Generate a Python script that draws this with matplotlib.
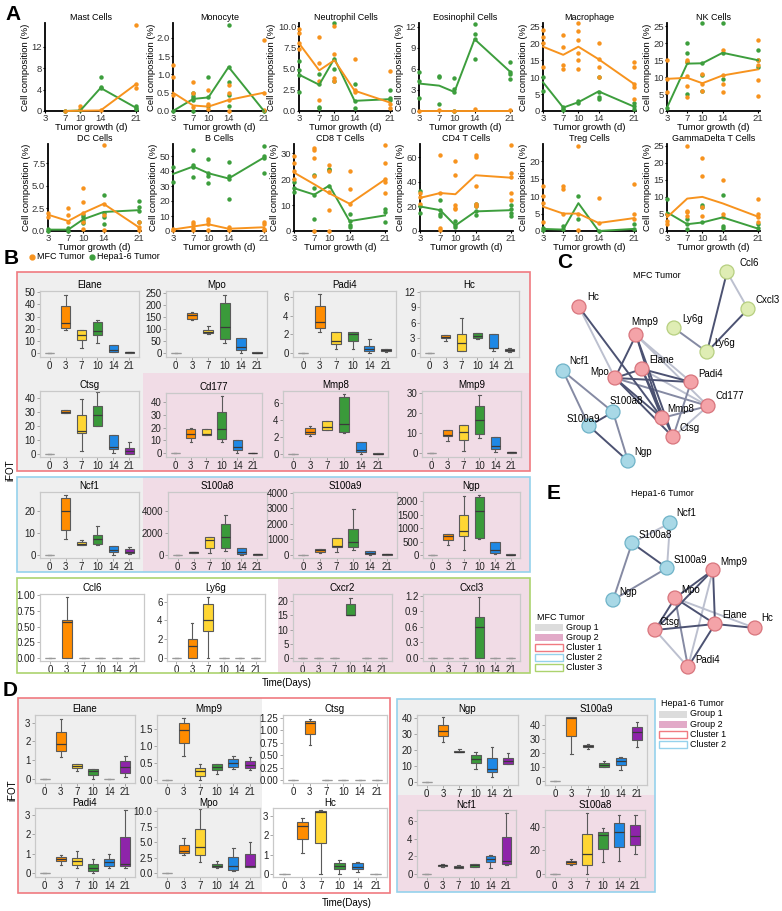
import numpy as np
import matplotlib.pyplot as plt
from matplotlib.patches import Rectangle, Circle

plt.rcParams['font.family'] = ['Liberation Sans', 'DejaVu Sans']

W, H = 782, 911
ORANGE = '#f7931e'
GREEN = '#3d9e3d'

# ---------------- panel A data (points per day, mean line) ----------------
days = [3, 7, 10, 14, 21]

mast_mfc = [[], [0.0], [0.9, 0.3], [0.1], [16.0, 5.1, 4.2]]
mast_mfc_mean = [np.nan, 0.0, 0.05, 0.1, 5.0]
mast_hep = [[], [0.0], [0.1], [6.3, 4.5, 4.2], [1.0, 0.5, 0.3]]
mast_hep_mean = [np.nan, 0.0, 0.1, 4.3, 0.6]

mono_mfc = [[1.25, 0.93, 0.45], [0.78, 0.5, 0.1], [0.58, 0.2, 0.05], [0.72, 0.5, 0.3, 0.0], [1.93, 0.5, 0.03]]
mono_mfc_mean = [0.5, 0.15, 0.12, 0.3, 0.5]
mono_hep = [[0.0], [0.5, 0.42, 0.35, 0.3, 0.0], [0.92, 0.38, 0.15], [2.35, 1.2, 0.8, 0.45, 0.15], [0.0]]
mono_hep_mean = [0.0, 0.33, 0.37, 1.2, 0.0]

neut_mfc = [[9.7, 9.2, 8.0, 7.3], [8.8, 5.7, 3.5, 1.3], [10.1, 6.7, 3.9, 3.5], [6.2, 2.5, 2.2], [4.7, 0.8, 0.4]]
neut_mfc_mean = [8.0, 4.8, 6.0, 2.4, 1.0]
neut_hep = [[5.9, 4.8, 4.2, 2.2], [4.4, 3.2, 0.5, 0.3], [10.4, 6.2, 5.0, 3.6], [3.2, 1.2, 0.3], [2.5, 1.5, 1.3]]
neut_hep_mean = [4.3, 3.1, 6.2, 1.2, 1.4]

eos_mfc = [[0.0], [0.2], [0.0], [0.3], [0.1]]
eos_mfc_mean = [0.0, 0.0, 0.0, 0.0, 0.0]
eos_hep = [[5.5, 4.3, 1.8], [5.0, 4.8, 1.0], [4.7, 3.1, 2.7, 0.0], [12.4, 11.0, 10.2, 7.4], [7.0, 5.5, 5.3, 4.5]]
eos_hep_mean = [3.9, 3.6, 2.7, 10.2, 5.6]

mac_mfc = [[24, 22, 20, 13], [22.5, 19, 13.5, 12.5], [26, 23.5, 21, 17, 15, 12.5], [20, 15.5, 13, 10], [14.5, 13, 8, 7, 3.5]]
mac_mfc_mean = [19, 16.6, 19, 15.3, 8]
mac_hep = [[10, 6], [1.3, 0.5, 0.2], [3, 2.5], [10, 5.5, 4, 3.5], [2.5, 1.5, 0.7]]
mac_hep_mean = [8.5, 1.0, 2.6, 5.8, 1.3]

nk_mfc = [[15, 9.5, 5.5], [15, 14.5, 10.3, 7.5, 4], [11, 8, 6], [18, 10.5, 8, 5.5], [21, 15, 13.5, 9.2, 4.5]]
nk_mfc_mean = [9.5, 9.8, 8.2, 10.5, 12.3]
nk_hep = [[1], [20, 17.2, 14.5, 5], [26, 14.2, 10.5, 6], [26, 17, 9.5], [18, 15, 13]]
nk_hep_mean = [1, 14, 14.1, 17.2, 15]

dc_mfc = [[2.0, 1.5], [2.5, 1.8, 1.0], [4.8, 3.2, 2.0, 1.0, 0.2], [9.5, 3.0, 1.8, 0.1], [1.0, 0.4, 0.1]]
dc_mfc_mean = [1.8, 1.1, 2.0, 3.0, 0.4]
dc_hep = [[0.2, 0.05], [0.3, 0.05], [1.8, 1.5, 1.2, 0.9], [4.0, 2.0, 1.6, 0.8], [3.3, 2.7, 2.2, 1.0]]
dc_hep_mean = [0.15, 0.15, 1.3, 2.1, 2.3]

bc_mfc = [[1.5, 0.5], [6, 5, 2, 1], [8, 6.5, 5, 1], [2.5, 1.5, 0.5], [6, 4.5, 1.5, 0.5]]
bc_mfc_mean = [1, 3, 4.5, 1.5, 2.5]
bc_hep = [[43, 33], [54, 44, 43, 36], [48, 39, 37, 32], [46, 37, 35, 21.5], [57, 50, 49, 39]]
bc_hep_mean = [38, 43, 38.5, 35, 49]

cd8_mfc = [[29, 26, 23, 20], [32, 31, 28, 21, 0], [25.5, 23, 15, 8, 0], [23, 16, 10.5], [33, 26, 20, 19, 14.5]]
cd8_mfc_mean = [22.5, 18, 14.5, 10.5, 19.8]
cd8_hep = [[19, 16.5, 15], [21.5, 16.5, 14, 4.5], [24, 23.5, 17.5], [6.5, 4, 2.5, 1.5], [8.5, 7.5, 3.5]]
cd8_hep_mean = [16.5, 14, 17.5, 3.8, 6]

cd4_mfc = [[31, 28, 22], [62, 31, 2.5, 1], [57, 46, 21, 19, 18], [62, 60, 37, 22, 20], [70, 47, 44, 31, 25]]
cd4_mfc_mean = [27, 31, 30, 45.5, 43.5]
cd4_hep = [[33, 20, 15], [25, 17, 14, 12], [8, 5, 3], [22, 20, 16, 13], [21, 18, 15, 12]]
cd4_hep_mean = [20, 17, 4.5, 16, 17]

treg_mfc = [[13, 10, 8, 2.5], [13, 12, 5], [24.5, 5, 0.2], [9.5, 2.3], [13.5, 5, 3.5]]
treg_mfc_mean = [7, 5, 5, 2.3, 3.7]
treg_hep = [[0.8, 0.2], [1.3, 0.5], [10, 3.5], [0], [2, 0.5]]
treg_hep_mean = [0.6, 0.4, 8, 0, 0.6]

gd_mfc = [[5, 3, 2], [25, 6, 5.5, 4.5], [21.5, 16, 7, 4.5], [15, 5, 4], [9.5, 5, 4, 2.5]]
gd_mfc_mean = [4, 9.5, 10, 8.1, 4.2]
gd_hep = [[9.5, 5], [3.5, 2, 0.5], [7.5, 7, 2.5], [10.5, 1.5, 1], [2, 0.8]]
gd_hep_mean = [5.5, 2, 2.5, 4, 0.7]

# ---------------- box plot data: (whislo, q1, median, q3, whishi) per day ----------------
time_labels = ['0', '3', '7', '10', '14', '21']
box_colors = ['#b5b5b5', '#ff8c00', '#ffd633', '#3a9a3a', '#1e88e5', '#8e24aa']
ZERO = (0, 0, 0, 0, 0)

b_elane = [ZERO, (19, 21, 25, 39, 48), (4, 11, 15, 19, 19.5), (8.5, 15, 18, 26, 27), (1, 1.5, 3, 6.5, 6.5), (0, 0.3, 0.8, 1.2, 1.2)]
b_mpo = [ZERO, (140, 145, 158, 170, 172), (80, 83, 88, 98, 115), (42, 60, 112, 210, 245), (3, 15, 28, 65, 65), (0, 1, 2, 4, 4)]
b_padi4 = [ZERO, (2.2, 2.7, 3.3, 5.0, 6.3), (0.4, 1.0, 1.3, 2.3, 2.3), (0.5, 1.3, 2.0, 2.2, 2.2), (0, 0.2, 0.4, 0.8, 1.5), (0.1, 0.2, 0.35, 0.5, 0.5)]
b_hc = [ZERO, (2.5, 3.0, 3.2, 3.6, 3.6), (0.5, 0.5, 2.0, 3.7, 7.0), (2.9, 3.0, 3.4, 4.0, 4.0), (0.4, 1.0, 1.1, 3.8, 3.8), (0.2, 0.4, 0.6, 0.9, 1.0)]
b_ctsg = [ZERO, (29.5, 29.5, 30, 31, 31), (2, 14.5, 16, 27.5, 39), (20, 20, 28, 34, 44), (0.5, 3, 5, 13, 13), (0, 0, 1.5, 4, 8.5)]
b_cd177 = [ZERO, (8.5, 12, 15, 19, 20), (14, 14, 15, 18.5, 18.5), (9, 11, 19, 32.5, 45), (0, 2.5, 5, 10, 10), (0, 0, 0, 0.5, 0.5)]
b_mmp8 = [ZERO, (2.1, 2.3, 2.5, 3.0, 3.3), (2.8, 2.8, 3.2, 3.9, 3.9), (2.4, 2.6, 3.5, 6.7, 7.1), (0, 0.2, 0.4, 1.4, 1.4), (0, 0, 0, 0.05, 0.05)]
b_mmp9 = [ZERO, (6, 8.5, 9, 11.5, 11.5), (1, 6.5, 10.5, 14, 14), (7.5, 9.5, 16.5, 23.5, 29), (0.5, 2, 3.5, 8, 8), (0, 0, 0.3, 0.5, 0.5)]
b_ncf1 = [ZERO, (7.5, 11.5, 20, 26, 27.5), (4.5, 4.5, 5, 6, 7), (4.5, 5, 7.5, 9, 13.5), (0, 1.5, 2, 4, 4), (0.5, 0.8, 1.5, 2.5, 3.5)]
b_s100a8 = [ZERO, (150, 180, 250, 300, 300), (200, 600, 1400, 1600, 1600), (350, 600, 1600, 2800, 3600), (0, 100, 300, 650, 650), (0, 30, 60, 100, 100)]
b_s100a9 = [ZERO, (150, 200, 300, 350, 400), (200, 500, 600, 1100, 1100), (300, 500, 850, 1650, 2950), (0, 80, 150, 280, 280), (0, 20, 40, 80, 80)]
b_ngp = [ZERO, (400, 550, 700, 780, 780), (200, 720, 900, 1500, 2200), (600, 650, 1650, 2150, 2250), (50, 100, 200, 480, 480), (0, 10, 25, 40, 40)]
b_ccl6 = [ZERO, (0, 0, 0.57, 0.61, 0.97), ZERO, ZERO, ZERO, ZERO]
b_ly6g = [ZERO, (0, 0, 1.3, 2.0, 3.7), (0, 2.9, 4.0, 5.7, 6.5), ZERO, ZERO, ZERO]
b_cxcr2 = [ZERO, ZERO, ZERO, (15, 15, 15, 19, 21), ZERO, ZERO]
b_cxcl3 = [ZERO, ZERO, ZERO, (0, 0, 0.6, 0.78, 1.18), ZERO, ZERO]

d_elane = [ZERO, (1.2, 1.5, 1.85, 2.5, 3.2), (0.45, 0.6, 0.7, 0.8, 0.8), (0, 0.2, 0.45, 0.55, 0.55), ZERO, (0.1, 0.35, 0.65, 0.95, 1.25)]
d_mmp9 = [ZERO, (0.7, 1.08, 1.47, 1.65, 1.82), (0, 0.12, 0.25, 0.35, 0.47), (0.15, 0.28, 0.38, 0.47, 0.47), (0.3, 0.38, 0.48, 0.6, 0.7), (0.28, 0.35, 0.42, 0.55, 0.67)]
d_ctsg = [ZERO, (0.71, 0.92, 1.15, 1.18, 1.22), ZERO, ZERO, ZERO, ZERO]
d_padi4 = [ZERO, (0.4, 0.6, 0.75, 0.85, 0.95), (0.25, 0.4, 0.6, 0.8, 1.15), (0, 0.1, 0.25, 0.45, 0.72), (0.25, 0.35, 0.55, 0.75, 1.0), (0.25, 0.35, 0.45, 1.85, 3.25)]
d_mpo = [ZERO, (2.9, 3.3, 3.6, 4.6, 5.7), (1.8, 2.9, 4.2, 7.2, 10.3), (0.9, 1.0, 1.2, 1.5, 2.0), (0.4, 0.6, 1.2, 2.6, 4.1), (1.0, 1.0, 1.2, 3.1, 5.1)]
d_hc = [ZERO, (1.1, 1.8, 2.45, 2.7, 2.9), (0, 1.6, 3.2, 3.25, 3.3), (0, 0.25, 0.4, 0.55, 0.72), (0.1, 0.25, 0.35, 0.55, 0.6), ZERO]
d_ngp = [ZERO, (25, 28.5, 32, 36, 40.5), (18.5, 18.5, 19, 19.5, 20.5), (8, 12, 14.5, 17, 18.5), (3, 6, 8, 15, 22), (11.5, 11.5, 13, 15, 18)]
d_s100a9 = [ZERO, (19, 32, 45, 45.5, 45.5), (23, 24, 25, 25.5, 26), (10, 10, 11, 12.5, 14.5), (8, 11, 14, 16, 17), (24, 29, 35, 38.5, 42)]
d_ncf1 = [ZERO, (0.8, 0.85, 0.95, 1.0, 1.05), (0.6, 0.65, 0.75, 0.9, 1.0), (0.7, 0.8, 0.95, 1.05, 1.15), (0.65, 1.3, 1.7, 2.05, 2.15), (1.0, 1.1, 1.4, 4.2, 7.0)]
d_s100a8 = [ZERO, (7.5, 8.5, 10, 11, 13), (0, 7.5, 16.5, 34, 52), (10, 21.5, 33, 36, 39), (10.5, 23, 36, 43.5, 50.5), (17, 24.5, 32.5, 42, 50.5)]

# ---------------- network layouts (pixel positions) ----------------
NODE_COL = {'r': ('#f4a3a8', '#d8757d'), 'b': ('#a8d8e6', '#6fb3c8'), 'g': ('#dfedb4', '#b6cf80')}
EDGE_COL = ['#bcc0cf', '#858aa3', '#4c5272']

# key: (x, y, group, label_x, label_y, label)
mfc_nodes = {
    'Ccl6': (727, 272, 'g', 740, 263, 'Ccl6'), 'Cxcl3': (748, 309, 'g', 756, 300, 'Cxcl3'),
    'Ly6g_a': (674, 328, 'g', 682, 319, 'Ly6g'), 'Ly6g_b': (707, 352, 'g', 714, 343, 'Ly6g'),
    'Hc': (579, 307, 'r', 587, 297, 'Hc'), 'Mmp9': (636, 335, 'r', 631, 322, 'Mmp9'),
    'Elane': (642, 369, 'r', 649, 360, 'Elane'), 'Mpo': (615, 378, 'r', 590, 372, 'Mpo'),
    'Padi4': (691, 382, 'r', 698, 374, 'Padi4'), 'Cd177': (708, 406, 'r', 716, 396, 'Cd177'),
    'Mmp8': (662, 418, 'r', 667, 409, 'Mmp8'), 'Ctsg': (673, 437, 'r', 680, 428, 'Ctsg'),
    'Ncf1': (563, 371, 'b', 569, 361, 'Ncf1'), 'S100a8': (613, 412, 'b', 610, 401, 'S100a8'),
    'S100a9': (589, 426, 'b', 567, 419, 'S100a9'), 'Ngp': (628, 461, 'b', 634, 452, 'Ngp'),
}
mfc_edges = [('Ccl6', 'Cxcl3', 0), ('Ccl6', 'Ly6g_b', 2), ('Cxcl3', 'Ly6g_b', 2), ('Ly6g_a', 'Ly6g_b', 1),
             ('Hc', 'Mmp8', 2), ('Hc', 'Mpo', 0), ('Mmp9', 'Mpo', 2), ('Mmp9', 'Mmp8', 2),
             ('Mmp9', 'Ctsg', 2), ('Mmp9', 'Padi4', 0), ('Mmp9', 'Cd177', 0), ('Mpo', 'Elane', 2),
             ('Mpo', 'Padi4', 2), ('Mpo', 'Cd177', 1), ('Mpo', 'Mmp8', 2), ('Mpo', 'Ctsg', 2),
             ('Elane', 'Padi4', 2), ('Elane', 'Cd177', 0), ('Elane', 'Mmp8', 2), ('Elane', 'Ctsg', 2),
             ('Padi4', 'Ctsg', 1), ('Cd177', 'Mmp8', 1), ('Cd177', 'Ctsg', 0), ('Ncf1', 'S100a9', 1),
             ('Ncf1', 'S100a8', 1), ('S100a8', 'S100a9', 2), ('S100a8', 'Ngp', 1), ('S100a9', 'Ngp', 2)]

hep_nodes = {
    'Ncf1': (670, 523, 'b', 676, 513, 'Ncf1'), 'S100a8': (632, 543, 'b', 639, 535, 'S100a8'),
    'S100a9': (667, 568, 'b', 674, 560, 'S100a9'), 'Ngp': (613, 600, 'b', 619, 592, 'Ngp'),
    'Mmp9': (713, 570, 'r', 720, 562, 'Mmp9'), 'Mpo': (675, 598, 'r', 681, 590, 'Mpo'),
    'Elane': (715, 624, 'r', 722, 615, 'Elane'), 'Ctsg': (655, 630, 'r', 660, 622, 'Ctsg'),
    'Hc': (755, 628, 'r', 761, 618, 'Hc'), 'Padi4': (688, 667, 'r', 695, 660, 'Padi4'),
}
hep_edges = [('Ncf1', 'S100a8', 0), ('Ncf1', 'S100a9', 0), ('S100a8', 'S100a9', 2), ('S100a8', 'Ngp', 1),
             ('S100a9', 'Ngp', 1), ('Mmp9', 'Mpo', 2), ('Mmp9', 'Ctsg', 2), ('Mmp9', 'Elane', 2),
             ('Mmp9', 'Padi4', 0), ('Mpo', 'Elane', 2), ('Mpo', 'Ctsg', 2), ('Mpo', 'Hc', 0),
             ('Mpo', 'Padi4', 1), ('Ctsg', 'Elane', 2), ('Ctsg', 'Padi4', 0), ('Elane', 'Hc', 2),
             ('Elane', 'Padi4', 2)]

GREY_BG = '#efefef'
PINK_BG = '#f1dce6'
RED = '#f07a80'
BLUE = '#95d2ec'
LIME = '#acd36e'

fig = plt.figure(figsize=(W / 100, H / 100), dpi=100)


def ax_px(x0, y0, x1, y1):
    return fig.add_axes([x0 / W, 1 - y1 / H, (x1 - x0) / W, (y1 - y0) / H])


def rect_px(x0, y0, x1, y1, fc='none', ec='none', lw=1.2, z=-5):
    fig.patches.append(Rectangle((x0 / W, 1 - y1 / H), (x1 - x0) / W, (y1 - y0) / H,
                                 transform=fig.transFigure, facecolor=fc, edgecolor=ec,
                                 lw=lw, zorder=z))


def text_px(x, y, s, **kw):
    fig.text(x / W, 1 - y / H, s, **kw)


# ---------------- panel A ----------------
a_panels = [
    ('Mast Cells', mast_mfc, mast_mfc_mean, mast_hep, mast_hep_mean, [0, 4, 8, 12], None, 16.4),
    ('Monocyte', mono_mfc, mono_mfc_mean, mono_hep, mono_hep_mean, [0, 0.5, 1, 1.5, 2], ['0.0', '0.5', '1.0', '1.5', '2.0'], 2.4),
    ('Neutrophil Cells', neut_mfc, neut_mfc_mean, neut_hep, neut_hep_mean, [0, 2.5, 5, 7.5, 10], ['0.0', '2.5', '5.0', '7.5', '10.0'], 10.4),
    ('Eosinophil Cells', eos_mfc, eos_mfc_mean, eos_hep, eos_hep_mean, [0, 3, 6, 9, 12], None, 12.5),
    ('Macrophage', mac_mfc, mac_mfc_mean, mac_hep, mac_hep_mean, [0, 5, 10, 15, 20, 25], None, 26),
    ('NK Cells', nk_mfc, nk_mfc_mean, nk_hep, nk_hep_mean, [0, 5, 10, 15, 20, 25], None, 26),
    ('DC Cells', dc_mfc, dc_mfc_mean, dc_hep, dc_hep_mean, [0, 2.5, 5, 7.5], ['0.0', '2.5', '5.0', '7.5'], 9.6),
    ('B Cells', bc_mfc, bc_mfc_mean, bc_hep, bc_hep_mean, [0, 10, 20, 30, 40, 50], None, 58),
    ('CD8 T Cells', cd8_mfc, cd8_mfc_mean, cd8_hep, cd8_hep_mean, [0, 10, 20, 30], None, 33.5),
    ('CD4 T Cells', cd4_mfc, cd4_mfc_mean, cd4_hep, cd4_hep_mean, [0, 20, 40, 60], None, 71),
    ('Treg Cells', treg_mfc, treg_mfc_mean, treg_hep, treg_hep_mean, [0, 5, 10, 15, 20], None, 25),
    ('GammaDelta T Cells', gd_mfc, gd_mfc_mean, gd_hep, gd_hep_mean, [0, 5, 10, 15, 20, 25], None, 25.5),
]
a_lefts = [[45, 173, 299, 419, 543, 667], [48, 173, 294, 420, 543, 667]]
a_rows = [(23, 111), (144, 231)]

for i, (title, mfc, mfc_m, hep, hep_m, yt, ytl, ymax) in enumerate(a_panels):
    r, c = divmod(i, 6)
    x0 = a_lefts[r][c]
    y0, y1 = a_rows[r]
    ax = ax_px(x0, y0, x0 + 93, y1)
    for pts, mean, col in [(hep, hep_m, GREEN), (mfc, mfc_m, ORANGE)]:
        for d, vals in zip(days, pts):
            ax.plot([d] * len(vals), vals, 'o', color=col, ms=3.2, mec='none', clip_on=False, zorder=3)
        ax.plot(days, mean, '-', color=col, lw=1.4, clip_on=False, zorder=4)
    ax.set_xlim(3, 21.4)
    ax.set_ylim(0, ymax)
    ax.set_xticks(days)
    ax.set_yticks(yt)
    if ytl:
        ax.set_yticklabels(ytl)
    for s in ['top', 'right']:
        ax.spines[s].set_visible(False)
    for s in ['left', 'bottom']:
        ax.spines[s].set_linewidth(1.3)
    ax.tick_params(labelsize=6.8, length=1.5, width=0.8, pad=0.5, labelcolor='#333333')
    ax.set_title(title, fontsize=6.5, pad=2)
    ax.set_xlabel('Tumor growth (d)', fontsize=6.8, labelpad=0)
    ax.set_ylabel('Cell composition (%)', fontsize=6.8, labelpad=1)

text_px(5, 14, 'A', fontsize=15, fontweight='bold', va='center')
text_px(4, 259, 'B', fontsize=15, fontweight='bold', va='center')
text_px(557, 262, 'C', fontsize=15, fontweight='bold', va='center')
text_px(547, 493, 'E', fontsize=15, fontweight='bold', va='center')
text_px(3, 690, 'D', fontsize=15, fontweight='bold', va='center')

fig.lines.append(plt.Line2D([32 / W], [1 - 257 / H], marker='o', ms=3.5, color=ORANGE, transform=fig.transFigure))
text_px(37, 257, 'MFC Tumor', fontsize=6.5, va='center')
fig.lines.append(plt.Line2D([92 / W], [1 - 257 / H], marker='o', ms=3.5, color=GREEN, transform=fig.transFigure))
text_px(97, 257, 'Hepa1-6 Tumor', fontsize=6.5, va='center')


# ---------------- box plots ----------------
def box_ax(box, title, stats, yt, ylim, ytl=None, tpad=2.5):
    ax = ax_px(*box)
    ax.set_facecolor('none')
    bs = [dict(whislo=s[0], q1=s[1], med=s[2], q3=s[3], whishi=s[4]) for s in stats]
    out = ax.bxp(bs, positions=range(6), widths=0.6, patch_artist=True, showfliers=False,
                 capwidths=0.15,
                 boxprops=dict(lw=0.8, edgecolor='#5a5a5a'),
                 medianprops=dict(color='#3a3a3a', lw=0.9),
                 whiskerprops=dict(color='#5a5a5a', lw=0.8),
                 capprops=dict(color='#5a5a5a', lw=0.8))
    for k, patch in enumerate(out['boxes']):
        patch.set_facecolor(box_colors[k])
        if stats[k] == ZERO:
            patch.set_edgecolor('#9a9a9a')
            out['medians'][k].set_color('#9a9a9a')
    ax.set_xlim(-0.6, 5.6)
    ax.set_ylim(*ylim)
    ax.set_xticks(range(6))
    ax.set_xticklabels(time_labels)
    ax.set_yticks(yt)
    if ytl:
        ax.set_yticklabels(ytl)
    for s in ax.spines.values():
        s.set_color('#c9c9c9')
        s.set_linewidth(0.9)
    ax.tick_params(labelsize=7, length=2, width=0.6, color='#999999', pad=1.2, labelcolor='#222222')
    ax.set_title(title, fontsize=7, pad=tpad)
    return ax


# panel B backgrounds and frames
rect_px(17, 272, 530, 373, fc=GREY_BG)
rect_px(17, 373, 143, 471, fc=GREY_BG)
rect_px(143, 373, 530, 471, fc=PINK_BG)
rect_px(17, 272, 530, 471, ec=RED, z=5)
rect_px(17, 477, 143, 572, fc=GREY_BG)
rect_px(143, 477, 530, 572, fc=PINK_BG)
rect_px(17, 477, 530, 572, ec=BLUE, z=5)
rect_px(278, 578, 530, 673, fc=PINK_BG)
rect_px(17, 578, 530, 673, ec=LIME, z=5)

box_ax((40, 291, 139, 357), 'Elane', b_elane, [0, 10, 20, 30, 40, 50], (-3, 51))
box_ax((166, 291, 267, 357), 'Mpo', b_mpo, [0, 50, 100, 150, 200, 250], (-15, 260))
box_ax((293, 291, 396, 357), 'Padi4', b_padi4, [0, 2, 4, 6], (-0.4, 6.6))
box_ax((420, 291, 519, 357), 'Hc', b_hc, [0, 3, 6, 9, 12], (-0.7, 12.2))
box_ax((40, 391, 139, 457), 'Ctsg', b_ctsg, [0, 10, 20, 30, 40], (-2.5, 45))
box_ax((166, 393, 262, 457), 'Cd177', b_cd177, [0, 10, 20, 30, 40], (-3, 47))
box_ax((283, 391, 388, 457), 'Mmp8', b_mmp8, [0, 2, 4, 6], (-0.4, 7.4))
box_ax((422, 391, 521, 457), 'Mmp9', b_mmp9, [0, 10, 20, 30], (-2, 31))
box_ax((40, 492, 139, 558), 'Ncf1', b_ncf1, [0, 10, 20], (-1.5, 29))
box_ax((168, 492, 267, 558), 'S100a8', b_s100a8, [0, 2000, 4000], (-270, 5700))
box_ax((293, 492, 397, 558), 'S100a9', b_s100a9, [0, 1000, 2000, 3000, 4000], (-200, 4050))
box_ax((423, 492, 520, 558), 'Ngp', b_ngp, [0, 500, 1000, 1500, 2000], (-100, 2350))
box_ax((40, 594, 144, 661), 'Ccl6', b_ccl6, [0, 0.25, 0.5, 0.75, 1.0], (-0.05, 1.02),
       ['0.00', '0.25', '0.50', '0.75', '1.00'])
box_ax((167, 594, 265, 661), 'Ly6g', b_ly6g, [0, 2, 4, 6], (-0.3, 6.8))
box_ax((293, 594, 392, 661), 'Cxcr2', b_cxcr2, [0, 5, 10, 15, 20], (-1, 22.5))
box_ax((423, 594, 520, 661), 'Cxcl3', b_cxcl3, [0, 0.3, 0.6, 0.9, 1.2], (-0.06, 1.23),
       ['0.0', '0.3', '0.6', '0.9', '1.2'])

text_px(287, 683, 'Time(Days)', fontsize=7, ha='center', va='center')
text_px(10, 470, 'iFOT', fontsize=7, rotation=90, ha='center', va='center')


def legend_px(x, y, title, entries):
    text_px(x + 2, y, title, fontsize=6.5, va='center')
    for k, (fc, ec, lab) in enumerate(entries):
        yy = y + 10 + k * 10.2
        rect_px(x, yy - 3.5, x + 28, yy + 3.5, fc=fc, ec=ec, lw=1.0, z=5)
        text_px(x + 31, yy, lab, fontsize=6.5, va='center')


legend_px(535, 617, 'MFC Tumor', [('#dcdcdc', 'none', 'Group 1'), ('#e2aac8', 'none', 'Group 2'),
                                  ('white', RED, 'Cluster 1'), ('white', BLUE, 'Cluster 2'),
                                  ('white', LIME, 'Cluster 3')])

# ---------------- panel D ----------------
rect_px(18, 698, 262, 893, fc=GREY_BG)
rect_px(18, 698, 390, 893, ec=RED, z=5)
rect_px(397, 699, 655, 795, fc=GREY_BG)
rect_px(397, 795, 655, 892, fc=PINK_BG)
rect_px(397, 699, 655, 892, ec=BLUE, z=5)

box_ax((35, 715, 135, 783), 'Elane', d_elane, [0, 1, 2, 3], (-0.2, 3.4))
box_ax((157, 715, 260, 783), 'Mmp9', d_mmp9, [0, 0.5, 1.0, 1.5], (-0.1, 1.9), ['0.0', '0.5', '1.0', '1.5'])
box_ax((283, 715, 387, 783), 'Ctsg', d_ctsg, [0, 0.25, 0.5, 0.75, 1.0, 1.25], (-0.05, 1.3),
       ['0.00', '0.25', '0.50', '0.75', '1.00', '1.25'])
box_ax((35, 808, 135, 877), 'Padi4', d_padi4, [0, 1, 2, 3], (-0.2, 3.35), tpad=1)
box_ax((157, 808, 260, 877), 'Mpo', d_mpo, [0, 2.5, 5, 7.5, 10], (-0.6, 10.5),
       ['0.0', '2.5', '5.0', '7.5', '10.0'], tpad=1)
box_ax((273, 808, 387, 877), 'Hc', d_hc, [0, 1, 2, 3], (-0.15, 3.4), tpad=1)
box_ax((417, 715, 518, 785), 'Ngp', d_ngp, [0, 10, 20, 30, 40], (-2, 42))
box_ax((545, 715, 647, 785), 'S100a9', d_s100a9, [0, 10, 20, 30, 40], (-3, 47))
box_ax((417, 810, 516, 877), 'Ncf1', d_ncf1, [0, 2, 4, 6], (-0.4, 7.3), tpad=1)
box_ax((545, 810, 645, 877), 'S100a8', d_s100a8, [0, 20, 40], (-3, 55), tpad=1)

text_px(347, 903, 'Time(Days)', fontsize=7, ha='center', va='center')
text_px(12, 790, 'iFOT', fontsize=7, rotation=90, ha='center', va='center')

legend_px(659, 704, 'Hepa1-6 Tumor', [('#dcdcdc', 'none', 'Group 1'), ('#e2aac8', 'none', 'Group 2'),
                                      ('white', RED, 'Cluster 1'), ('white', BLUE, 'Cluster 2')])

# ---------------- networks C and E ----------------
net = ax_px(535, 250, 782, 690)
net.set_xlim(535, 782)
net.set_ylim(690, 250)
net.axis('off')
for nodes, edges in [(mfc_nodes, mfc_edges), (hep_nodes, hep_edges)]:
    for a, b, lvl in edges:
        net.plot([nodes[a][0], nodes[b][0]], [nodes[a][1], nodes[b][1]], '-',
                 color=EDGE_COL[lvl], lw=1.4, zorder=1 + lvl * 0.1)
    for x, y, g, lx, ly, lab in nodes.values():
        fc, ec = NODE_COL[g]
        net.add_patch(Circle((x, y), 7, facecolor=fc, edgecolor=ec, lw=0.9, zorder=3))
        net.text(lx, ly, lab, fontsize=7, ha='left', va='center', zorder=4)
net.text(657, 276, 'MFC Tumor', fontsize=6.5, ha='center', va='center')
net.text(662, 493, 'Hepa1-6 Tumor', fontsize=6.5, ha='center', va='center')

fig.savefig('out.png', dpi=100)
